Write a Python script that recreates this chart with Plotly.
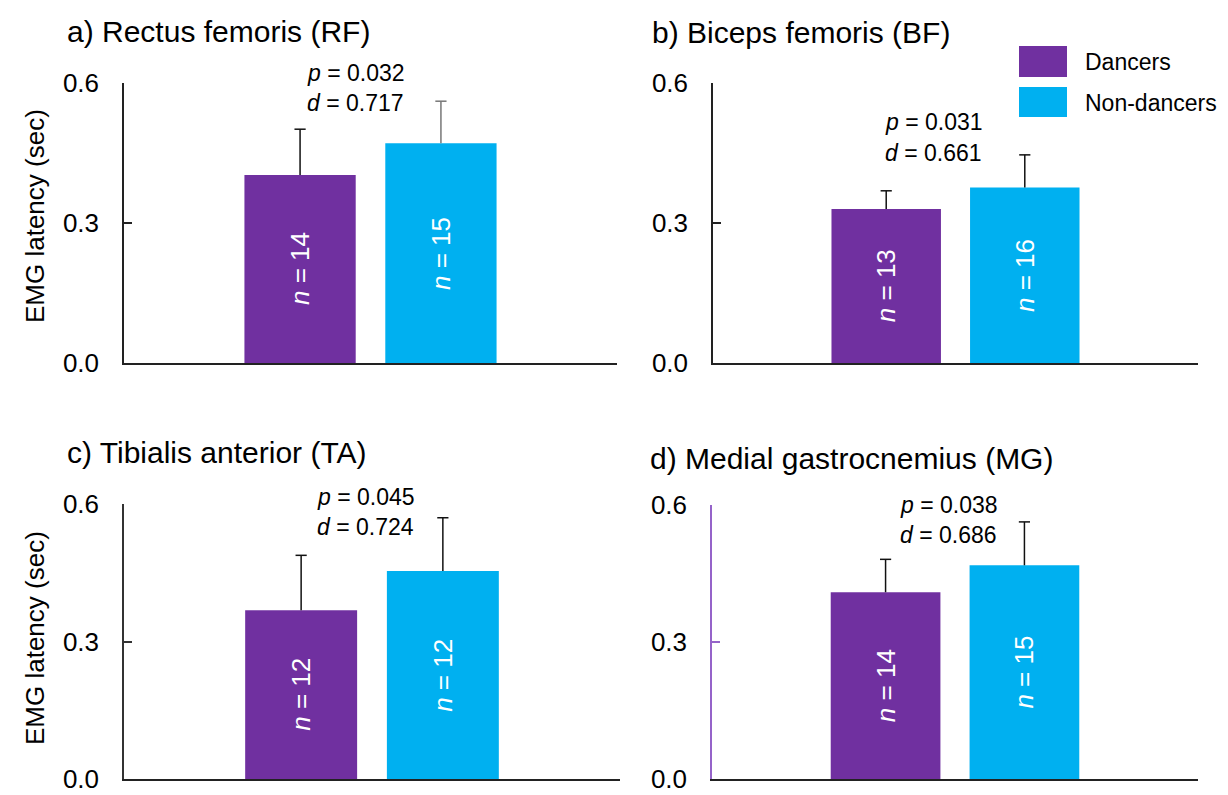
import plotly.graph_objects as go

# ---------------- data ----------------
panel_titles = ["a) Rectus femoris (RF)", "b) Biceps femoris (BF)",
                "c) Tibialis anterior (TA)", "d) Medial gastrocnemius (MG)"]
groups = ["Dancers", "Non-dancers"]
dancers_mean = [0.403, 0.330, 0.368, 0.409]
dancers_err = [0.098, 0.039, 0.120, 0.072]
nondancers_mean = [0.471, 0.376, 0.454, 0.468]
nondancers_err = [0.090, 0.070, 0.116, 0.095]
dancers_n = [14, 13, 12, 14]
nondancers_n = [15, 16, 12, 15]
p_values = ["0.032", "0.031", "0.045", "0.038"]
d_values = ["0.717", "0.661", "0.724", "0.686"]
ytick_vals = [0.0, 0.3, 0.6]
ytick_text = ["0.0", "0.3", "0.6"]
y_title = "EMG latency (sec)"

# ---------------- layout helpers ----------------
W, H = 1228, 795
FONT = "Arial, Liberation Sans, sans-serif"
PURPLE = "#7030A0"
CYAN = "#00B0F0"


def px(x):
    return x / W


def py(y):
    return 1 - y / H


# pixel boxes of the four plot areas: (left, right, top, bottom)
boxes = [(124, 617, 83, 363), (713, 1198, 83, 363),
         (124, 620, 504, 779), (712, 1198, 505, 779)]
title_pos = [(65, 32), (650, 33), (65, 452), (648, 458)]
stat_pos = [(305, 73, 103), (883, 122, 153), (315, 497, 527), (898, 505, 535)]
axis_colors = ["#222222", "#222222", "#333333", "#9563c9"]

fig = go.Figure()
annotations = []


def add_errbar(xpos, mean, err, color, xref, yref):
    # stem from bar top upward
    fig.add_trace(go.Scatter(
        x=[xpos, xpos], y=[mean, mean + err], mode="lines",
        line=dict(color=color, width=1.5), xaxis=xref, yaxis=yref,
        showlegend=False, hoverinfo="skip", cliponaxis=False))
    # cap at the top only
    fig.add_trace(go.Scatter(
        x=[xpos], y=[mean + err], mode="markers",
        marker=dict(symbol="line-ew-open", size=8, color=color,
                    line=dict(color=color, width=1.5)),
        xaxis=xref, yaxis=yref, showlegend=False, hoverinfo="skip",
        cliponaxis=False))


for i in range(4):
    ax = "" if i == 0 else str(i + 1)
    xref, yref = "x" + ax, "y" + ax
    err_col_d = "#111111"
    err_col_n = "#777777" if i == 0 else "#111111"
    fig.add_trace(go.Bar(
        x=[0], y=[dancers_mean[i]], width=0.79, name=groups[0],
        marker=dict(color=PURPLE, line=dict(width=0)),
        xaxis=xref, yaxis=yref, showlegend=False))
    fig.add_trace(go.Bar(
        x=[1], y=[nondancers_mean[i]], width=0.79, name=groups[1],
        marker=dict(color=CYAN, line=dict(width=0)),
        xaxis=xref, yaxis=yref, showlegend=False))
    add_errbar(0, dancers_mean[i], dancers_err[i], err_col_d, xref, yref)
    add_errbar(1, nondancers_mean[i], nondancers_err[i], err_col_n, xref, yref)

    l, r, t, b = boxes[i]
    col = axis_colors[i]
    fig.update_layout(**{
        "xaxis" + ax: dict(domain=[px(l), px(r)], range=[-1.25, 2.25],
                           anchor=yref, showline=True, linecolor="#222222",
                           linewidth=1.5, showticklabels=False, ticks="",
                           showgrid=False, zeroline=False, fixedrange=True,
                           automargin=False),
        "yaxis" + ax: dict(domain=[py(b), py(t)], range=[0, 0.6],
                           anchor=xref, showline=True, linecolor=col,
                           linewidth=1.5, ticks="inside", ticklen=8,
                           tickwidth=1.5, tickcolor=col,
                           tickvals=ytick_vals, ticktext=ytick_text,
                           tickfont=dict(size=26, color="#000000", family=FONT),
                           ticklabelstandoff=18, automargin=False,
                           ticklabeloverflow="allow",
                           showgrid=False, zeroline=False, fixedrange=True),
    })

    # n labels inside bars
    annotations.append(dict(x=0, y=dancers_mean[i] / 2, xref=xref, yref=yref,
                            text="<i>n</i> = %d" % dancers_n[i], textangle=-90,
                            showarrow=False,
                            font=dict(size=26, color="white", family=FONT)))
    annotations.append(dict(x=1, y=nondancers_mean[i] / 2, xref=xref, yref=yref,
                            text="<i>n</i> = %d" % nondancers_n[i], textangle=-90,
                            showarrow=False,
                            font=dict(size=26, color="white", family=FONT)))
    # panel titles
    tx, ty = title_pos[i]
    annotations.append(dict(x=px(tx), y=py(ty), xref="paper", yref="paper",
                            xanchor="left", yanchor="middle", showarrow=False,
                            text=panel_titles[i],
                            font=dict(size=30, color="black", family=FONT)))
    # stats
    sx, sy1, sy2 = stat_pos[i]
    annotations.append(dict(x=px(sx), y=py(sy1), xref="paper", yref="paper",
                            xanchor="left", yanchor="middle", showarrow=False,
                            text="<i>p</i> = " + p_values[i],
                            font=dict(size=23, color="black", family=FONT)))
    annotations.append(dict(x=px(sx), y=py(sy2), xref="paper", yref="paper",
                            xanchor="left", yanchor="middle", showarrow=False,
                            text="<i>d</i> = " + d_values[i],
                            font=dict(size=23, color="black", family=FONT)))

# y-axis titles (left panels)
for yc in (216, 638):
    annotations.append(dict(x=px(35), y=py(yc), xref="paper", yref="paper",
                            xanchor="center", yanchor="middle", showarrow=False,
                            text=y_title, textangle=-90,
                            font=dict(size=26, color="black", family=FONT)))

# legend (drawn manually to reproduce the large swatches)
shapes = []
legend_rows = [(PURPLE, 46, 77, 62), (CYAN, 87, 117, 103)]
for (colr, top, bot, tc), name in zip(legend_rows, groups):
    shapes.append(dict(type="rect", xref="paper", yref="paper",
                       x0=px(1019), x1=px(1067), y0=py(bot), y1=py(top),
                       fillcolor=colr, line=dict(width=0)))
    annotations.append(dict(x=px(1083), y=py(tc), xref="paper", yref="paper",
                            xanchor="left", yanchor="middle", showarrow=False,
                            text=name,
                            font=dict(size=23, color="black", family=FONT)))

fig.update_layout(
    width=W, height=H,
    margin=dict(l=0, r=0, t=0, b=0, autoexpand=False),
    paper_bgcolor="white", plot_bgcolor="white",
    font=dict(family=FONT, color="black"),
    annotations=annotations, shapes=shapes,
    showlegend=False, barmode="overlay",
)

fig.write_html("out.html")
